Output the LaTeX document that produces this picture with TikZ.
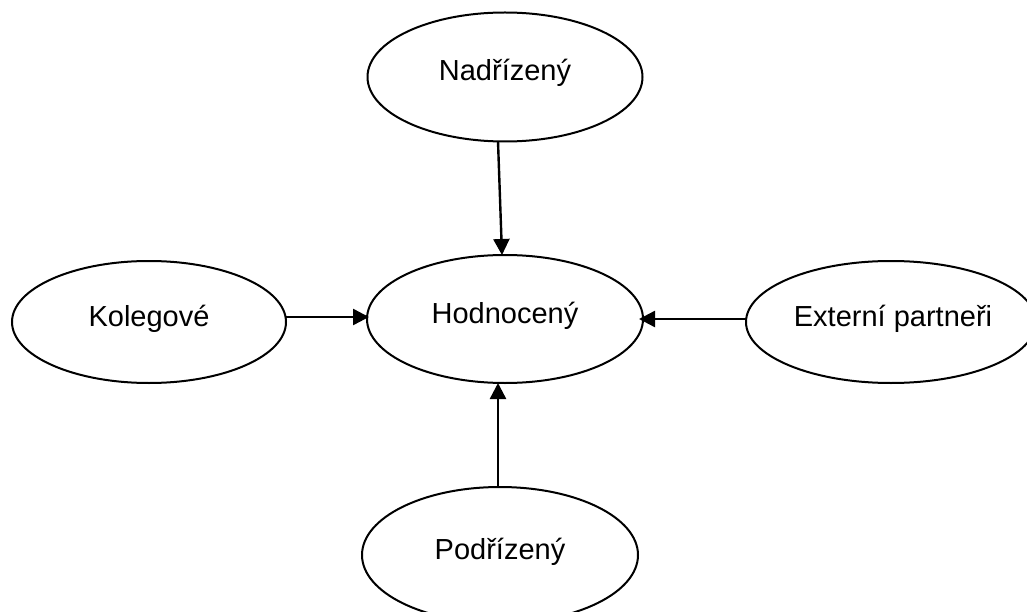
\documentclass[tikz,border=0pt]{standalone}
\usepackage{fontspec}
\setmainfont{Liberation Sans}
\usetikzlibrary{shapes.geometric,arrows.meta}
\begin{document}
\begin{tikzpicture}[x=1pt,y=-1pt,
  oval/.style={ellipse,draw=black,line width=2pt,inner sep=0pt,outer sep=0pt,
    font=\fontsize{29}{34}\selectfont,text height=8pt,text depth=0pt},
  conn/.style={line width=2.4pt,-{Triangle[length=16pt,width=16pt]}}]
\useasboundingbox (0,0) rectangle (1027,612);
\clip (0,0) rectangle (1027,612);
\fill[white] (0,0) rectangle (1027,612);
\node[oval,minimum width=275pt,minimum height=129pt] (nad) at (505,77) {Nadřízený};
\node[oval,minimum width=276pt,minimum height=128pt] (hod) at (505,319) {Hodnocený};
\node[oval,minimum width=274pt,minimum height=122pt] (kol) at (149,322) {Kolegové};
\node[oval,minimum width=290pt,minimum height=122pt] (ext) at (891,322) {\hspace*{4pt}Externí partneři};
\node[oval,minimum width=276pt,minimum height=136pt] (pod) at (500,555) {Podřízený};
\draw[conn] ([xshift=-7pt]nad.south) -- ([xshift=-3pt]hod.north);
\draw[conn] ([yshift=5pt]kol.east) -- ([xshift=2pt,yshift=2pt]hod.west);
\draw[conn] ([yshift=3pt]ext.west) -- ([xshift=-4pt]hod.east);
\draw[conn] ([xshift=-2pt]pod.north) -- ([xshift=-7pt]hod.south);
\end{tikzpicture}
\end{document}
